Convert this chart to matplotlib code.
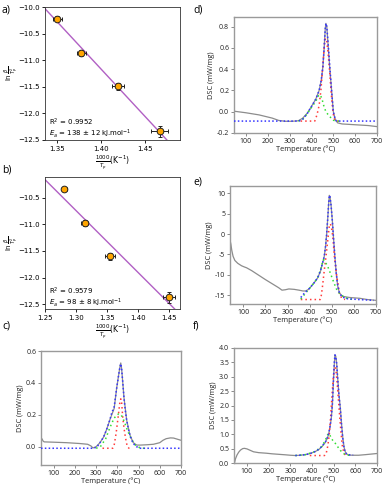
import numpy as np
import matplotlib
matplotlib.use("Agg")
import matplotlib.pyplot as plt

# ---- Kissinger plots (a, b) ----
a_x = [1.351, 1.378, 1.419, 1.466]
a_y = [-10.22, -10.86, -11.49, -12.34]
a_xerr = [0.005, 0.005, 0.007, 0.010]
a_yerr = [0.05, 0.06, 0.07, 0.095]
a_r2 = "0.9952"
a_ea = "138 ± 12"

b_x = [1.281, 1.314, 1.355, 1.450]
b_y = [-10.34, -10.97, -11.60, -12.37]
b_xerr = [0.004, 0.006, 0.008, 0.010]
b_yerr = [0.03, 0.06, 0.06, 0.10]
b_r2 = "0.9579"
b_ea = "98 ± 8"

# ---- DSC curves (c-f): temperature (°C), DSC (mW/mg) ----
c_gray_T = [45, 50, 55, 100, 160, 220, 260, 275, 285, 300, 318, 335, 350, 365, 385, 397,
            405, 412, 416, 420, 425, 431, 444, 460, 475, 491, 510, 540, 570, 600, 615,
            630, 650, 665, 680, 700]
c_gray_y = [0.048, 0.035, 0.03, 0.028, 0.025, 0.02, 0.015, 0.005, -0.008, 0.0, 0.025,
            0.06, 0.11, 0.17, 0.24, 0.37, 0.44, 0.50, 0.525, 0.49, 0.41, 0.31, 0.165,
            0.07, 0.025, 0.01, 0.01, 0.012, 0.015, 0.025, 0.04, 0.05, 0.055, 0.054,
            0.048, 0.04]
c_blue_T = [40, 290, 305, 318, 335, 350, 365, 373, 385, 397, 405, 412, 416, 420, 425,
            431, 437, 444, 452, 460, 468, 475, 490, 507, 530, 700]
c_blue_y = [-0.01, -0.01, 0.0, 0.025, 0.06, 0.11, 0.17, 0.21, 0.25, 0.37, 0.44, 0.50,
            0.52, 0.49, 0.41, 0.31, 0.23, 0.165, 0.11, 0.07, 0.04, 0.02, 0.0, -0.01,
            -0.01, -0.01]
c_red_T = [330, 378, 385, 394, 404, 411, 416, 420, 425, 431, 436, 442, 447, 455, 470]
c_red_y = [-0.01, -0.01, 0.01, 0.083, 0.19, 0.27, 0.30, 0.28, 0.19, 0.12, 0.075, 0.03,
           0.0, -0.01, -0.01]
c_green_T = [300, 320, 345, 365, 385, 405, 418, 432, 448, 465, 485, 510, 540]
c_green_y = [-0.01, 0.0, 0.05, 0.12, 0.18, 0.205, 0.2, 0.16, 0.1, 0.05, 0.01, -0.01, -0.01]

d_gray_T = [45, 100, 160, 220, 250, 280, 310, 340, 360, 380, 400, 420, 435, 445, 452,
            458, 463, 466, 470, 477, 484, 492, 500, 510, 520, 540, 580, 620, 660, 700]
d_gray_y = [0.005, -0.01, -0.03, -0.06, -0.082, -0.09, -0.09, -0.085, -0.06, -0.015,
            0.05, 0.12, 0.2, 0.3, 0.42, 0.6, 0.78, 0.83, 0.8, 0.6, 0.4, 0.2, 0.0, -0.08,
            -0.105, -0.115, -0.12, -0.125, -0.13, -0.14]
d_blue_T = [45, 340, 358, 380, 400, 420, 435, 445, 452, 458, 463, 466, 470, 477, 484,
            492, 500, 508, 515, 700]
d_blue_y = [-0.088, -0.088, -0.075, -0.02, 0.05, 0.12, 0.2, 0.3, 0.42, 0.6, 0.78, 0.83,
            0.8, 0.62, 0.42, 0.2, 0.0, -0.07, -0.088, -0.088]
d_red_T = [350, 415, 425, 435, 443, 450, 456, 461, 465, 470, 476, 483, 490, 497, 503,
           510, 525]
d_red_y = [-0.088, -0.088, -0.03, 0.06, 0.2, 0.38, 0.55, 0.67, 0.69, 0.66, 0.55, 0.38,
           0.18, 0.02, -0.06, -0.088, -0.088]
d_green_T = [340, 360, 380, 400, 420, 432, 440, 448, 457, 466, 477, 490, 500, 515, 540]
d_green_y = [-0.088, -0.07, -0.02, 0.04, 0.1, 0.15, 0.16, 0.12, 0.05, 0.0, -0.03, -0.06,
             -0.08, -0.088, -0.088]

e_gray_T = [40, 44, 48, 54, 62, 75, 92, 105, 115, 138, 169, 200, 230, 260, 275, 290,
            306, 330, 352, 370, 382, 395, 405, 420, 436, 450, 459, 466, 472, 477, 482,
            486, 489, 492, 497, 503, 508, 514, 520, 527, 535, 548, 580, 627, 660, 700]
e_gray_y = [-1.5, -2.5, -4.0, -5.5, -6.5, -7.2, -7.8, -8.1, -8.3, -9.0, -10.1, -11.2,
            -12.2, -13.2, -13.8, -13.7, -13.5, -13.6, -13.8, -14.0, -14.0, -13.6, -13.0,
            -12.0, -10.8, -9.0, -7.0, -5.5, -3.0, 0.0, 4.0, 7.5, 9.5, 9.2, 7.0, 3.0, -1.0,
            -5.5, -9.5, -12.8, -14.5, -15.3, -15.6, -15.8, -16.1, -16.3]
e_blue_T = [360, 372, 382, 395, 405, 420, 436, 448, 459, 466, 472, 477, 482, 486, 489,
            492, 497, 503, 508, 514, 520, 527, 535, 548, 570, 620, 690]
e_blue_y = [-15.6, -14.8, -14.2, -13.6, -13.0, -12.0, -10.8, -9.2, -7.0, -5.5, -3.0, 0.0,
            4.0, 7.5, 9.5, 9.2, 7.0, 3.0, -1.0, -5.5, -9.5, -12.8, -14.6, -15.5, -15.9,
            -16.1, -16.3]
e_red_T = [360, 448, 453, 459, 466, 474, 482, 489, 494, 499, 505, 512, 523, 535, 545, 560]
e_red_y = [-16.1, -16.1, -15.0, -12.5, -9.0, -5.5, -1.5, 2.0, 2.5, 1.5, -0.8, -5.6,
           -10.5, -14.6, -15.8, -16.1]
e_green_T = [360, 382, 405, 420, 436, 448, 458, 463, 470, 482, 495, 505, 520, 535, 558,
             580, 600]
e_green_y = [-16.0, -14.5, -13.0, -12.0, -10.8, -9.0, -7.0, -6.3, -6.8, -8.0, -9.8,
             -11.3, -13.4, -14.6, -15.6, -16.0, -16.1]

f_gray_T = [42, 47, 54, 62, 70, 80, 88, 100, 115, 130, 154, 190, 215, 250, 277, 300,
            323, 345, 369, 392, 415, 430, 446, 462, 470, 477, 484, 489, 494, 497, 500,
            503, 506, 510, 514, 518, 524, 531, 537, 542, 548, 554, 562, 569, 585, 615,
            646, 700]
f_gray_y = [0.0, 0.15, 0.28, 0.38, 0.45, 0.5, 0.51, 0.49, 0.44, 0.39, 0.36, 0.34, 0.32,
            0.30, 0.285, 0.27, 0.26, 0.27, 0.29, 0.33, 0.40, 0.46, 0.57, 0.72, 0.85, 1.0,
            1.3, 1.55, 2.0, 2.5, 3.0, 3.45, 3.76, 3.7, 3.45, 3.0, 2.4, 1.9, 1.3, 0.9,
            0.55, 0.38, 0.3, 0.28, 0.27, 0.27, 0.29, 0.33]
f_blue_T = [323, 345, 369, 392, 415, 430, 446, 462, 470, 477, 484, 489, 494, 497, 500,
            503, 506, 510, 514, 518, 524, 531, 537, 542, 548, 554, 562, 575, 590]
f_blue_y = [0.26, 0.27, 0.29, 0.33, 0.40, 0.47, 0.58, 0.74, 0.87, 1.02, 1.3, 1.6, 2.05,
            2.55, 3.05, 3.5, 3.76, 3.7, 3.45, 3.0, 2.4, 1.85, 1.25, 0.85, 0.52, 0.36,
            0.3, 0.28, 0.28]
f_red_T = [390, 458, 466, 473, 480, 486, 492, 498, 503, 507, 511, 516, 522, 528, 534,
           540, 547, 555, 565]
f_red_y = [0.26, 0.26, 0.35, 0.6, 1.0, 1.6, 2.3, 2.95, 3.3, 3.35, 3.2, 2.8, 2.2, 1.6,
           1.05, 0.6, 0.35, 0.27, 0.26]
f_green_T = [323, 369, 415, 446, 462, 470, 476, 482, 490, 500, 508, 520, 531, 542, 554,
             570, 585]
f_green_y = [0.26, 0.29, 0.40, 0.58, 0.8, 0.95, 1.03, 0.98, 0.85, 0.74, 0.68, 0.55,
             0.44, 0.35, 0.29, 0.27, 0.27]

fig = plt.figure(figsize=(3.84, 4.84), dpi=100)

def px_axes(x0, y0, x1, y1):
    return fig.add_axes([x0 / 384, 1 - y1 / 484, (x1 - x0) / 384, (y1 - y0) / 484])

def kissinger(ax, x, y, xerr, yerr, r2, ea, xlim, ylim, yticks):
    k, b0 = np.polyfit(x, y, 1)
    xl = np.array(xlim)
    ax.plot(xl, k * xl + b0, color="#b160c4", lw=1.0, zorder=1)
    ax.errorbar(x, y, xerr=xerr, yerr=yerr, fmt="o", ms=4.8, mfc="#ffa500",
                mec="#222222", mew=0.7, ecolor="#222222", elinewidth=0.7,
                capsize=1.5, capthick=0.7, zorder=3)
    ax.set_xlim(xlim)
    ax.set_ylim(ylim)
    ax.set_yticks(yticks)
    ax.tick_params(labelsize=5, length=2.5, width=0.6, pad=1.5)
    for s in ax.spines.values():
        s.set_linewidth(0.6)
        s.set_color("#333333")
    ax.set_ylabel(r"$\ln\frac{\beta}{T_p^2}$", fontsize=5)
    ax.yaxis.set_label_coords(-0.175, 0.5)
    ax.set_xlabel(r"$\frac{1000}{T_p}$(K$^{-1}$)", fontsize=5.5, labelpad=1.5)
    ax.text(0.03, 0.135, "R$^2$ = " + r2, transform=ax.transAxes, fontsize=5,
            va="center")
    ax.text(0.03, 0.05, "$E_a$ = " + ea + " kJ.mol$^{-1}$", transform=ax.transAxes,
            fontsize=5, va="center")

ax_a = px_axes(45, 7, 180, 140)
kissinger(ax_a, a_x, a_y, a_xerr, a_yerr, a_r2, a_ea, (1.337, 1.489), (-12.5, -10.0),
          [-10.0, -10.5, -11.0, -11.5, -12.0, -12.5])
ax_a.set_xticks([1.35, 1.40, 1.45])

ax_b = px_axes(45, 177, 180, 309)
kissinger(ax_b, b_x, b_y, b_xerr, b_yerr, b_r2, b_ea, (1.25, 1.468), (-12.59, -10.11),
          [-10.5, -11.0, -11.5, -12.0, -12.5])
ax_b.set_xticks([1.25, 1.30, 1.35, 1.40, 1.45])

def dsc(ax, panel, ylim, yticks, ylabels, xlim=(40, 700)):
    gT, gy, bT, by, rT, ry, grT, gry = panel
    ax.plot(gT, gy, color="#8c8c8c", lw=0.9, zorder=1)
    ax.plot(rT, ry, color="#ff3b3b", lw=1.1, ls=(0, (1, 2)), zorder=2)
    ax.plot(grT, gry, color="#33dd33", lw=1.1, ls=(0, (1, 2)), zorder=2)
    ax.plot(bT, by, color="#3535ff", lw=1.1, ls=(0, (1, 1.5)), zorder=3)
    ax.set_xlim(xlim)
    ax.set_ylim(ylim)
    ax.set_xticks([100, 200, 300, 400, 500, 600, 700])
    ax.set_xticklabels(["100", "200", "300", "400", "500", "600", "700"],
                       family="Open Sans")
    ax.set_yticks(yticks)
    ax.set_yticklabels(ylabels, family="Open Sans")
    ax.tick_params(labelsize=5, length=2, width=0.6, pad=1.5, color="#777777",
                   labelcolor="#222222")
    for s in ax.spines.values():
        s.set_linewidth(1.0)
        s.set_color("#9a9a9a")
    ax.set_xlabel("Temperature (°C)", fontsize=5.3, family="Open Sans", labelpad=0.5,
                  color="#222222")
    ax.set_ylabel("DSC (mW/mg)", fontsize=5.3, family="Open Sans", labelpad=1.5,
                  color="#222222")

ax_c = px_axes(41, 351, 181, 465)
dsc(ax_c, (c_gray_T, c_gray_y, c_blue_T, c_blue_y, c_red_T, c_red_y, c_green_T,
           c_green_y),
    (-0.115, 0.6), [0.0, 0.2, 0.4, 0.6], ["0.0", "0.2", "0.4", "0.6"])

ax_d = px_axes(234, 17, 377, 133)
dsc(ax_d, (d_gray_T, d_gray_y, d_blue_T, d_blue_y, d_red_T, d_red_y, d_green_T,
           d_green_y),
    (-0.2, 0.89), [-0.2, 0.0, 0.2, 0.4, 0.6, 0.8],
    ["-0.2", "0.0", "0.2", "0.4", "0.6", "0.8"], xlim=(45, 700))

ax_e = px_axes(230, 186, 376, 304)
dsc(ax_e, (e_gray_T, e_gray_y, e_blue_T, e_blue_y, e_red_T, e_red_y, e_green_T,
           e_green_y),
    (-17.2, 11.8), [-15, -10, -5, 0, 5, 10], ["-15", "-10", "-5", "0", "5", "10"])

ax_f = px_axes(234, 348, 377, 463)
dsc(ax_f, (f_gray_T, f_gray_y, f_blue_T, f_blue_y, f_red_T, f_red_y, f_green_T,
           f_green_y),
    (0.0, 4.0), [0.0, 0.5, 1.0, 1.5, 2.0, 2.5, 3.0, 3.5, 4.0],
    ["0.0", "0.5", "1.0", "1.5", "2.0", "2.5", "3.0", "3.5", "4.0"])

for lab, x, y in [("a)", 2, 10), ("b)", 2, 170), ("c)", 2, 326),
                  ("d)", 193, 10), ("e)", 193, 182), ("f)", 193, 326)]:
    fig.text(x / 384, 1 - y / 484, lab, fontsize=7.5, family="Open Sans",
             va="center", ha="left")

fig.savefig("out.png", dpi=100)
